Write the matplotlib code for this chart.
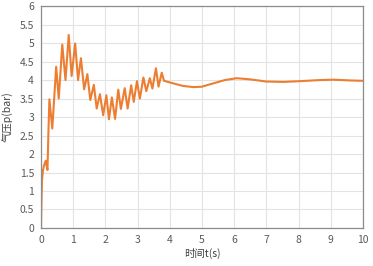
import matplotlib
matplotlib.use("Agg")
import matplotlib.pyplot as plt

plt.rcParams['font.family'] = ['Noto Sans CJK SC', 'DejaVu Sans']

# pressure trace (t in s, p in bar)
t = [0.0, 0.01, 0.03, 0.06, 0.09, 0.13, 0.15, 0.17, 0.2, 0.23, 0.26,
     0.35, 0.47, 0.55, 0.66, 0.76, 0.86, 0.95, 1.06, 1.15, 1.24, 1.34,
     1.44, 1.53, 1.64, 1.73, 1.83, 1.93, 2.03, 2.11, 2.2, 2.3, 2.4,
     2.48, 2.6, 2.69, 2.8, 2.88, 2.98, 3.07, 3.18, 3.27, 3.38, 3.46,
     3.57, 3.65, 3.75, 3.82, 3.9, 4.11, 4.42, 4.73, 4.99, 5.35, 5.71,
     6.08, 6.49, 7.0, 7.53, 8.04, 8.66, 9.08, 9.6, 10.0]
p = [0.0, 0.6, 1.3, 1.55, 1.68, 1.78, 1.82, 1.7, 1.57, 2.6, 3.48,
     2.69, 4.36, 3.5, 4.96, 4.0, 5.22, 4.11, 4.99, 4.0, 4.59, 3.75,
     4.16, 3.46, 3.87, 3.23, 3.62, 3.05, 3.59, 2.94, 3.53, 2.95, 3.74,
     3.22, 3.78, 3.23, 3.86, 3.41, 3.97, 3.5, 4.07, 3.7, 4.05, 3.77,
     4.32, 3.82, 4.2, 3.98, 3.96, 3.91, 3.84, 3.81, 3.82, 3.91, 4.0,
     4.05, 4.02, 3.96, 3.95, 3.97, 4.0, 4.01, 3.99, 3.98]

fig = plt.figure(figsize=(3.73, 2.66), dpi=100)
ax = fig.add_axes([0.11, 0.143, 0.863, 0.834])
ax.plot(t, p, color='#ED7D31', linewidth=1.5, solid_joinstyle='round')

ax.set_xlim(0, 10)
ax.set_ylim(0, 6)
ax.set_xticks(range(0, 11))
ax.set_yticks([i * 0.5 for i in range(13)])
ax.set_yticklabels(['0', '0.5', '1', '1.5', '2', '2.5', '3', '3.5', '4', '4.5', '5', '5.5', '6'])
ax.grid(True, color='#E3E3E3', linewidth=0.8)
ax.set_axisbelow(True)
for s in ax.spines.values():
    s.set_color('#8C8C8C')
    s.set_linewidth(0.9)
ax.tick_params(length=0, labelsize=7.5, colors='#595959', pad=5)
ax.set_xlabel('时间t(s)', fontsize=7.5, color='#404040', labelpad=2)
ax.set_ylabel('气压p(bar)', fontsize=7.5, color='#404040')
ax.yaxis.set_label_coords(-0.085, 0.5)

fig.savefig('out.png', dpi=100)
